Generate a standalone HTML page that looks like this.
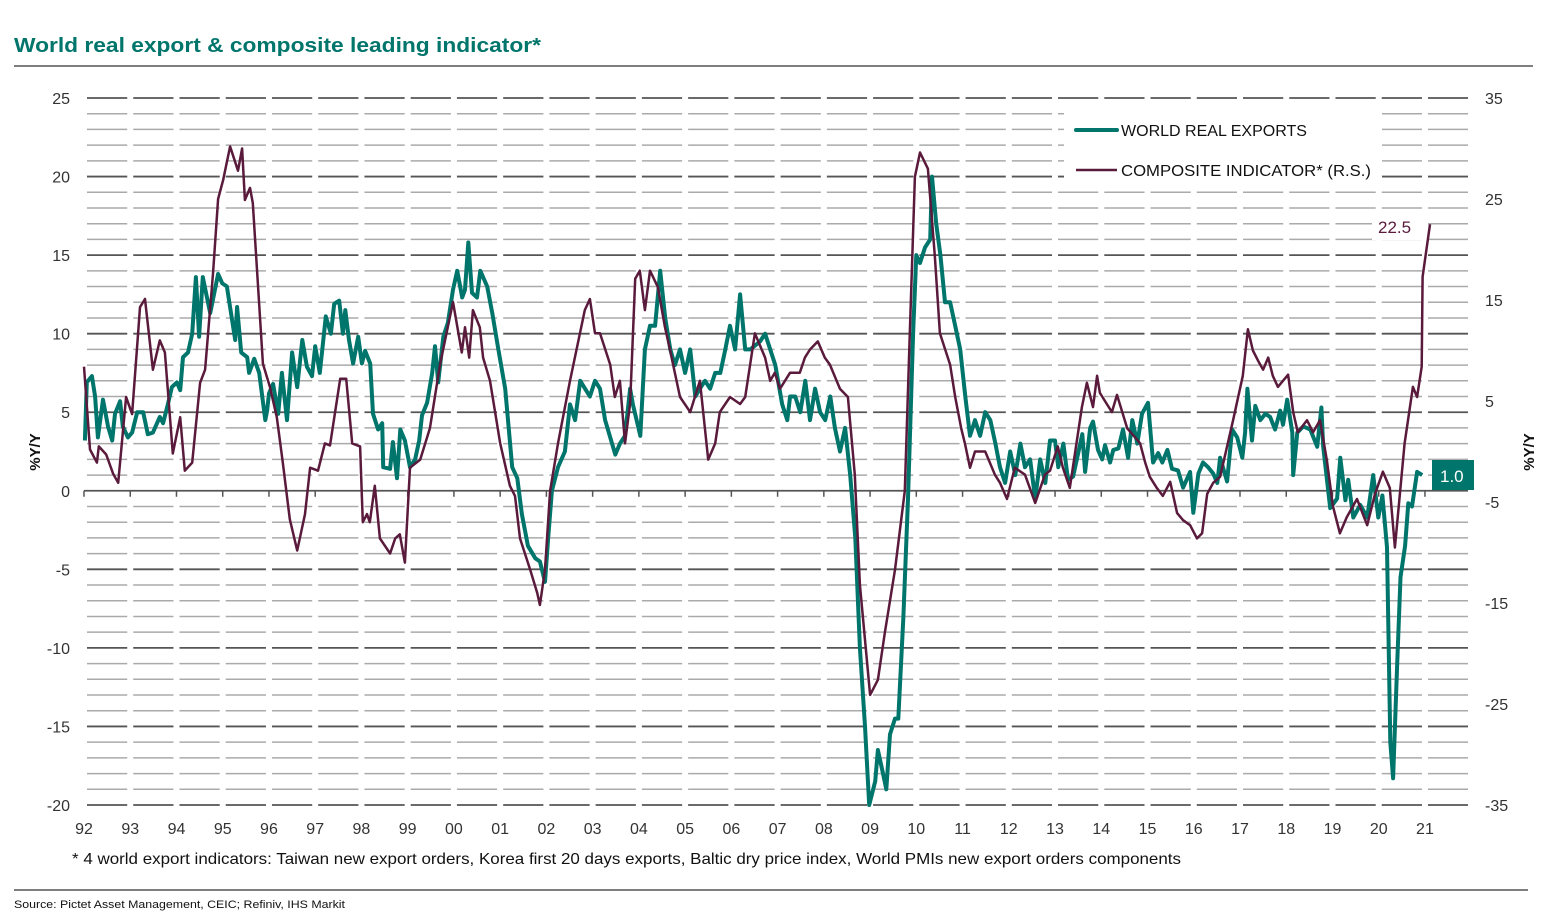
<!DOCTYPE html>
<html><head><meta charset="utf-8">
<style>
html,body{margin:0;padding:0;background:#fff;}
svg{display:block;font-family:"Liberation Sans",sans-serif;}
</style></head>
<body>
<svg id="chart" width="1551" height="918" viewBox="0 0 1551 918" xmlns="http://www.w3.org/2000/svg">
<text x="14" y="52" font-size="20" font-weight="bold" fill="#00756b" textLength="527" lengthAdjust="spacingAndGlyphs">World real export &amp; composite leading indicator*</text>
<line x1="14" y1="66" x2="1533" y2="66" stroke="#333" stroke-width="1.2"/>
<g id="grid"></g>
<g id="axes"></g>
<g id="series"></g>
<g>
<rect x="1064" y="108" width="318" height="82" fill="#fff"/>
<line x1="1076" y1="130" x2="1117" y2="130" stroke="#00756b" stroke-width="4" stroke-linecap="round"/>
<text x="1121" y="136" font-size="16" fill="#111" textLength="186" lengthAdjust="spacingAndGlyphs">WORLD REAL EXPORTS</text>
<line x1="1076" y1="170" x2="1117" y2="170" stroke="#5a1a3c" stroke-width="2.5"/>
<text x="1121" y="176" font-size="16" fill="#111" textLength="250" lengthAdjust="spacingAndGlyphs">COMPOSITE INDICATOR* (R.S.)</text>
</g>
<g>
<rect x="1372" y="212" width="50" height="28" fill="#fff"/>
<text x="1378" y="233" font-size="17" fill="#5a1a3c">22.5</text>
<rect x="1432" y="460" width="42" height="30" fill="#00756b"/>
<text x="1440" y="482" font-size="17" fill="#fff">1.0</text>
</g>
<text x="72" y="864" font-size="16" fill="#111" textLength="1109" lengthAdjust="spacingAndGlyphs">* 4 world export indicators: Taiwan new export orders, Korea first 20 days exports, Baltic dry price index, World PMIs new export orders components</text>
<line x1="14" y1="890" x2="1528" y2="890" stroke="#333" stroke-width="1.2"/>
<text x="14" y="908" font-size="11" fill="#111" textLength="331" lengthAdjust="spacingAndGlyphs">Source: Pictet Asset Management, CEIC; Refiniv, IHS Markit</text>
</svg>
<script>
// years since 1992
const exportsT = [0.02,0.06,0.17,0.24,0.30,0.41,0.52,0.61,0.67,0.78,0.84,0.95,1.04,1.15,1.28,1.38,1.49,1.64,1.71,1.82,1.90,2.01,2.08,2.14,2.25,2.34,2.42,2.49,2.57,2.73,2.90,2.99,3.09,3.20,3.27,3.31,3.40,3.53,3.57,3.68,3.79,3.92,3.96,4.00,4.09,4.20,4.28,4.39,4.50,4.61,4.72,4.82,4.93,5.00,5.10,5.23,5.34,5.41,5.52,5.60,5.65,5.73,5.82,5.93,6.01,6.08,6.19,6.25,6.36,6.45,6.47,6.62,6.68,6.77,6.84,6.94,7.05,7.16,7.25,7.31,7.42,7.53,7.59,7.66,7.77,7.87,7.98,8.07,8.18,8.24,8.31,8.39,8.50,8.57,8.72,8.83,8.95,9.11,9.26,9.37,9.47,9.60,9.76,9.86,9.97,10.04,10.12,10.25,10.40,10.51,10.62,10.73,10.94,11.05,11.16,11.27,11.49,11.59,11.70,11.81,11.87,12.03,12.13,12.24,12.35,12.46,12.57,12.68,12.78,12.89,13.00,13.11,13.22,13.32,13.43,13.54,13.65,13.76,13.87,13.97,14.08,14.19,14.30,14.41,14.62,14.73,14.84,14.95,15.10,15.21,15.27,15.38,15.49,15.60,15.70,15.81,15.92,16.03,16.14,16.24,16.35,16.46,16.57,16.68,16.78,16.89,16.98,17.11,17.17,17.28,17.35,17.43,17.54,17.61,17.72,17.82,17.93,18.00,18.08,18.19,18.30,18.34,18.43,18.52,18.62,18.73,18.84,18.95,19.06,19.16,19.27,19.38,19.49,19.60,19.71,19.81,19.92,20.03,20.14,20.25,20.35,20.46,20.57,20.68,20.79,20.89,21.00,21.07,21.18,21.28,21.39,21.59,21.65,21.76,21.82,21.93,22.02,22.08,22.19,22.26,22.37,22.47,22.58,22.67,22.78,22.88,23.01,23.12,23.23,23.32,23.43,23.53,23.66,23.77,23.92,23.99,24.10,24.20,24.31,24.42,24.51,24.57,24.72,24.83,24.94,25.05,25.11,25.16,25.26,25.33,25.44,25.55,25.65,25.76,25.87,25.93,26.02,26.13,26.15,26.24,26.37,26.52,26.67,26.76,26.80,26.95,27.10,27.17,27.28,27.34,27.45,27.60,27.75,27.88,27.99,28.08,28.18,28.25,28.31,28.40,28.47,28.57,28.64,28.72,28.83,28.94];
const exportsV = [3.2,6.9,7.3,6.0,3.4,5.8,4.1,3.2,4.9,5.7,4.1,3.4,3.7,5.0,5.0,3.6,3.7,4.7,4.3,5.6,6.6,6.9,6.4,8.5,8.8,10,13.6,9.8,13.6,11.3,13.8,13.2,13.0,10.9,9.6,11.7,8.8,8.5,7.5,8.4,7.5,4.5,5.1,6.2,6.8,4.9,7.5,4.5,8.8,6.6,9.6,7.9,7.3,9.2,7.5,11.1,10,11.9,12.1,10,11.5,9.6,8.1,9.8,8.1,8.9,8.1,4.9,3.9,4.3,1.5,1.4,3.1,0.8,3.9,3.2,1.5,2.0,3.2,4.8,5.6,7.5,9.2,6.9,9.8,10.7,12.8,14,12.3,12.8,15.8,12.6,12.3,14,13,11.3,9.2,6.5,1.5,0.8,-1.5,-3.5,-4.3,-4.5,-5.8,-3,0,1.5,2.5,5.5,4.5,7,6,7,6.5,4.5,2.3,3,3.5,6.5,5.5,3.5,9,10.5,10.5,14,11,9,8,9,7.5,9,6,6.5,7,6.5,7.5,7.5,9,10.5,9,12.5,9,9,9.5,10,9,8,5.5,4.5,6,6,5,7,4.5,6.5,5,4.5,6,4,2.5,4,1,-3,-10,-15,-20,-18.5,-16.5,-18,-19,-15.5,-14.5,-14.5,-8,-0.5,10,15,14.5,15.5,16,20,17,15,12,12,10.5,9,6,3.5,4.5,3.5,5,4.5,3,1.5,0.5,2.5,1,3,1.5,2,-0.5,2,0.5,3.2,3.2,1.5,3,0.7,0.9,3.6,1.2,4,4.4,2.6,2,2.9,1.8,2.6,2.7,3.9,2.1,4.5,3,4.9,5.6,1.8,2.4,1.8,2.6,1.4,1.3,0.2,1.2,-1.4,1.1,1.8,1.5,1.1,0.5,2.1,0.6,3.9,3.4,2.1,3.7,6.5,3.2,5.4,4.5,4.9,4.7,3.9,5.1,4.2,5.8,3.7,1,3.7,4.1,3.9,2.8,5.3,2.8,-1.1,-0.5,2.1,-0.6,0.7,-1.7,-0.9,-1.7,1,-1.7,-0.3,-3.6,-16,-18.3,-11,-5.5,-3.5,-0.8,-1,1.2,1.0];
const compositeT = [0.00,0.13,0.28,0.32,0.48,0.63,0.74,0.91,1.04,1.17,1.21,1.32,1.49,1.64,1.75,1.92,2.08,2.18,2.34,2.51,2.62,2.79,2.90,3.01,3.16,3.33,3.42,3.48,3.59,3.65,3.87,4.02,4.17,4.30,4.45,4.61,4.78,4.89,5.06,5.21,5.32,5.54,5.67,5.80,5.97,6.03,6.12,6.18,6.29,6.40,6.62,6.73,6.83,6.94,7.05,7.27,7.48,7.70,7.98,8.17,8.24,8.33,8.41,8.56,8.63,8.78,9.00,9.21,9.32,9.43,9.65,9.80,9.86,9.97,10.08,10.25,10.51,10.83,10.94,11.05,11.16,11.38,11.48,11.59,11.70,11.81,11.92,12.02,12.13,12.24,12.41,12.56,12.67,12.89,13.11,13.32,13.50,13.65,13.75,13.97,14.19,14.30,14.51,14.73,14.84,14.94,15.05,15.27,15.48,15.59,15.70,15.87,16.02,16.13,16.35,16.52,16.67,16.78,17.00,17.17,17.32,17.54,17.75,17.86,17.97,18.08,18.25,18.40,18.51,18.73,18.84,18.97,19.05,19.16,19.27,19.49,19.70,19.81,19.96,20.13,20.35,20.57,20.78,20.89,21.06,21.17,21.32,21.58,21.69,21.82,21.91,21.97,22.12,22.23,22.34,22.56,22.77,22.84,22.95,23.05,23.20,23.33,23.49,23.64,23.77,23.92,24.07,24.18,24.29,24.42,24.57,24.72,24.85,25.06,25.17,25.28,25.39,25.50,25.61,25.71,25.82,26.04,26.15,26.25,26.45,26.58,26.73,26.88,27.01,27.16,27.31,27.53,27.75,27.92,28.09,28.24,28.35,28.56,28.74,28.83,28.93,28.95,29.11];
const compositeV = [8.4,0.2,-1.1,0.5,-0.3,-2.2,-3.1,5.4,3.7,11.7,14.3,15.1,8.1,11.0,9.8,-0.2,3.4,-1.9,-1.1,6.8,8.1,17.6,25.0,26.9,30.2,27.8,30.0,24.9,26.1,24.6,8.7,6.4,3.4,-1.1,-6.7,-9.8,-6.2,-1.6,-1.9,0.8,0.6,7.2,7.2,0.8,0.5,-7.0,-6.2,-7.0,-3.4,-8.6,-10.1,-8.6,-8.2,-11.0,-1.6,-0.8,2.3,8.6,14.8,9.8,12.3,9.3,14.0,12.3,9.3,7.0,0.8,-3.4,-4.4,-8.6,-11.7,-14.0,-15.2,-11.7,-3.9,0.8,7.0,14.0,15.1,11.7,11.7,8.6,5.4,7.0,0.8,4.7,17.1,17.9,14.0,17.9,16.3,12.4,10.1,5.4,3.9,7.0,-0.8,0.8,3.9,5.4,4.7,5.4,11.7,9.3,7.0,7.8,6.2,7.8,7.8,9.3,10.1,10.9,9.3,8.6,6.2,5.4,-2.3,-13.2,-24.1,-22.6,-17.9,-11.7,-3.9,11.7,27.2,29.6,28.0,19.4,11.7,8.6,5.4,2.3,0.8,-1.6,0.0,0.0,-2.3,-3.1,-4.7,-1.6,-2.3,-5.1,-2.3,-1.9,0.5,-1.6,-3.6,4.4,6.8,4.4,7.5,5.8,4.7,3.9,5.6,2.3,1.2,0.8,-1.1,-2.5,-3.6,-4.4,-3.0,-6.1,-6.8,-7.3,-8.6,-8.1,-4.2,-3.1,-2.5,0.5,3.1,7.5,12.1,10.0,9.0,8.1,9.3,7.5,6.4,7.6,3.9,1.9,3.1,1.9,3.1,-0.9,-5.4,-8.1,-6.5,-4.7,-7.3,-4.2,-2.0,-3.6,-9.5,0.8,6.4,5.4,8.4,17.3,22.5];
const yearLabels = ["92","93","94","95","96","97","98","99","00","01","02","03","04","05","06","07","08","09","10","11","12","13","14","15","16","17","18","19","20","21"];
const leftTicks = [25,20,15,10,5,0,-5,-10,-15,-20];
const rightTicks = [35,25,15,5,-5,-15,-25,-35];

const NS = "http://www.w3.org/2000/svg";
const X0 = 84, PXY = 46.24;
const xScale = t => X0 + t * PXY;
const yLeft = v => 98 + (25 - v) * (707 / 45);
const yRight = v => 98 + (35 - v) * (707 / 70);
function mk(tag, attrs, parent) {
  const e = document.createElementNS(NS, tag);
  for (const k in attrs) e.setAttribute(k, attrs[k]);
  parent.appendChild(e);
  return e;
}
const grid = document.getElementById('grid');
const axes = document.getElementById('axes');
const series = document.getElementById('series');
const XEND = 1468;
for (let v = -20; v <= 25; v++) {
  if (v === 0) continue;
  const major = v % 5 === 0;
  const y = yLeft(v);
  for (let i = 0; i < yearLabels.length; i++) {
    const a = xScale(i) + 3, b = Math.min(i === yearLabels.length - 1 ? XEND : xScale(i + 1) - 3, XEND);
    const l = mk('line', {x1: a, y1: y, x2: b, y2: y, stroke: major ? '#555' : '#aaa', 'stroke-width': major ? 1.8 : 1.5}, grid);
    
    
  }
}
const zl = mk('line', {x1: X0, y1: yLeft(0), x2: XEND, y2: yLeft(0), stroke: '#555', 'stroke-width': 1.8}, axes);


yearLabels.forEach((lab, i) => {
  const x = xScale(i);
  const tk = mk('line', {x1: x, y1: yLeft(0), x2: x, y2: yLeft(0) + 6, stroke: '#555', 'stroke-width': 1.5}, axes);
  
  
  const t = mk('text', {x: x, y: 834, 'font-size': 16, fill: '#333', 'text-anchor': 'middle'}, axes);
  
  
  t.textContent = lab;
});
leftTicks.forEach(v => {
  const t = mk('text', {x: 70, y: yLeft(v) + 6, 'font-size': 16, fill: '#333', 'text-anchor': 'end'}, axes);
  
  
  t.textContent = String(v);
});
rightTicks.forEach(v => {
  const t = mk('text', {x: 1485, y: yRight(v) + 6, 'font-size': 16, fill: '#333'}, axes);
  
  
  t.textContent = String(v);
});
const lt = mk('text', {x: 0, y: 0, 'font-size': 15, 'font-weight': 'bold', fill: '#111', 'text-anchor': 'middle', transform: 'translate(40,452) rotate(-90)'}, axes);


lt.textContent = '%Y/Y';
const rt = mk('text', {x: 0, y: 0, 'font-size': 15, 'font-weight': 'bold', fill: '#111', 'text-anchor': 'middle', transform: 'translate(1534,452) rotate(-90)'}, axes);


rt.textContent = '%Y/Y';

function pathOf(ts, vs, ys) {
  return ts.map((t, i) => (i ? 'L' : 'M') + xScale(t).toFixed(1) + ',' + ys(vs[i]).toFixed(1)).join(' ');
}
const pe = mk('path', {d: pathOf(exportsT, exportsV, yLeft), fill: 'none', stroke: '#00756b', 'stroke-width': 4, 'stroke-linejoin': 'round'}, series);


const pc = mk('path', {d: pathOf(compositeT, compositeV, yRight), fill: 'none', stroke: '#5a1a3c', 'stroke-width': 2.5, 'stroke-linejoin': 'round'}, series);


</script>
</body></html>
